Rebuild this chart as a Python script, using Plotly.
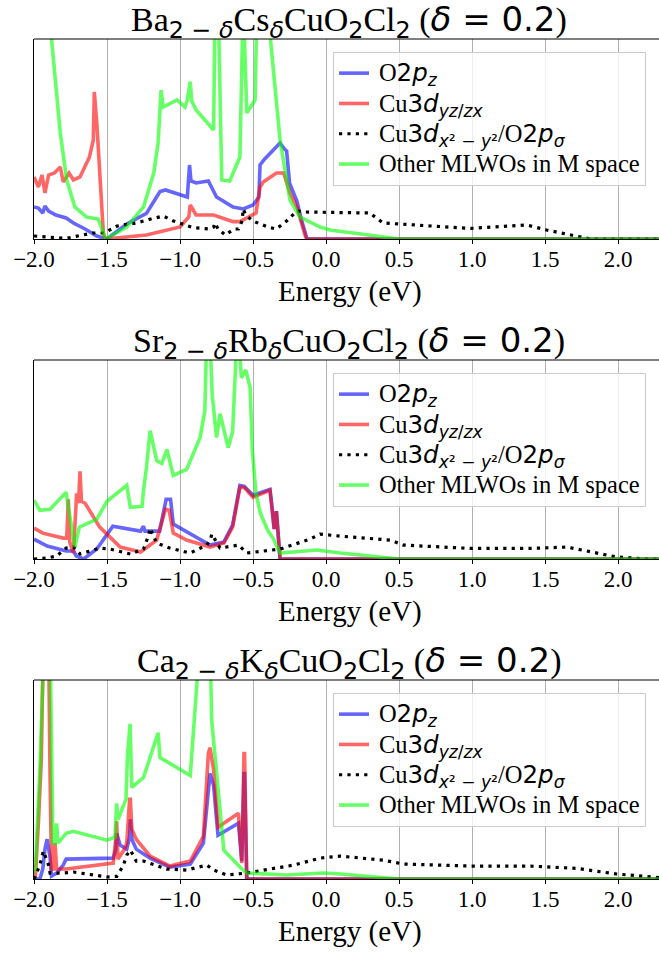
import plotly.graph_objects as go

# ---------------- data (energy in eV, DOS in arbitrary units) ----------------
E_TICKS = [-2.0, -1.5, -1.0, -0.5, 0.0, 0.5, 1.0, 1.5, 2.0]
E_TICK_TEXT = ["−2.0", "−1.5", "−1.0", "−0.5", "0.0", "0.5", "1.0", "1.5", "2.0"]

PANEL_TITLES = [
    'Ba<sub><span style="font-family:DejaVu Sans">2 − <i>δ</i></span></sub>Cs<sub><span style="font-family:DejaVu Sans"><i>δ</i></span></sub>CuO<sub><span style="font-family:DejaVu Sans">2</span></sub>Cl<sub><span style="font-family:DejaVu Sans">2</span></sub> (<span style="font-family:DejaVu Sans"><i>δ</i> = 0.2</span>)',
    'Sr<sub><span style="font-family:DejaVu Sans">2 − <i>δ</i></span></sub>Rb<sub><span style="font-family:DejaVu Sans"><i>δ</i></span></sub>CuO<sub><span style="font-family:DejaVu Sans">2</span></sub>Cl<sub><span style="font-family:DejaVu Sans">2</span></sub> (<span style="font-family:DejaVu Sans"><i>δ</i> = 0.2</span>)',
    'Ca<sub><span style="font-family:DejaVu Sans">2 − <i>δ</i></span></sub>K<sub><span style="font-family:DejaVu Sans"><i>δ</i></span></sub>CuO<sub><span style="font-family:DejaVu Sans">2</span></sub>Cl<sub><span style="font-family:DejaVu Sans">2</span></sub> (<span style="font-family:DejaVu Sans"><i>δ</i> = 0.2</span>)',
]
SERIES_NAMES = [
    'O<span style="font-family:DejaVu Sans">2<i>p</i><sub><i>z</i></sub></span>',
    'Cu<span style="font-family:DejaVu Sans">3<i>d</i><sub><i>yz</i>/<i>zx</i></sub></span>',
    'Cu<span style="font-family:DejaVu Sans">3<i>d</i><sub><i>x</i>² − <i>y</i>²</sub></span>/O<span style="font-family:DejaVu Sans">2<i>p</i><sub><i>σ</i></sub></span>',
    'Other MLWOs in M space',
]
X_LABEL = "Energy (eV)"

# ---- Ba(2-d)Cs(d)CuO2Cl2 ----
BA_O2PZ_E = [-2.0, -1.97, -1.94, -1.925, -1.90, -1.85, -1.78, -1.73, -1.65, -1.57, -1.50, -1.365, -1.23, -1.137, -1.10, -1.0, -0.95, -0.935, -0.925, -0.89, -0.806, -0.75, -0.637, -0.567, -0.50, -0.46, -0.452, -0.42, -0.315, -0.285, -0.27, -0.25, -0.20, -0.17, -0.13, 0.5, 1.0, 1.5, 2.0, 2.4]
BA_O2PZ_Y = [0.16, 0.155, 0.13, 0.165, 0.14, 0.12, 0.105, 0.08, 0.05, 0.015, 0.0, 0.075, 0.128, 0.237, 0.245, 0.22, 0.21, 0.37, 0.29, 0.28, 0.29, 0.21, 0.16, 0.15, 0.17, 0.21, 0.37, 0.40, 0.48, 0.45, 0.44, 0.28, 0.19, 0.10, 0.0, 0.0, 0.0, 0.0, 0.0, 0.0]
BA_CU3D_E = [-2.0, -1.97, -1.945, -1.925, -1.90, -1.86, -1.82, -1.80, -1.76, -1.73, -1.685, -1.62, -1.594, -1.587, -1.57, -1.55, -1.525, -1.51, -1.23, -1.0, -0.94, -0.93, -0.89, -0.77, -0.637, -0.59, -0.48, -0.452, -0.43, -0.34, -0.29, -0.247, -0.20, -0.14, -0.13, 0.5, 1.0, 1.5, 2.0, 2.4]
BA_CU3D_Y = [0.31, 0.26, 0.32, 0.23, 0.32, 0.33, 0.36, 0.285, 0.33, 0.295, 0.31, 0.41, 0.495, 0.735, 0.58, 0.31, 0.03, 0.0, 0.02, 0.06, 0.11, 0.17, 0.12, 0.12, 0.087, 0.087, 0.13, 0.26, 0.285, 0.33, 0.33, 0.23, 0.16, 0.01, 0.0, 0.0, 0.0, 0.0, 0.0, 0.0]
BA_DX2_E = [-2.0, -1.9, -1.78, -1.6, -1.52, -1.43, -1.30, -1.20, -1.115, -1.045, -0.96, -0.91, -0.80, -0.77, -0.76, -0.74, -0.69, -0.63, -0.60, -0.575, -0.567, -0.55, -0.50, -0.40, -0.34, -0.27, -0.20, -0.14, 0.30, 0.39, 0.99, 1.375, 1.51, 1.81, 2.4]
BA_DX2_Y = [0.015, 0.01, 0.003, 0.03, 0.03, 0.065, 0.08, 0.10, 0.115, 0.09, 0.07, 0.057, 0.05, 0.06, 0.08, 0.05, 0.02, 0.05, 0.05, 0.09, 0.15, 0.12, 0.09, 0.06, 0.05, 0.09, 0.14, 0.135, 0.13, 0.08, 0.053, 0.07, 0.045, 0.0, 0.0]
BA_OTHER_E = [-2.0, -1.90, -1.88, -1.82, -1.776, -1.72, -1.64, -1.56, -1.51, -1.365, -1.25, -1.18, -1.15, -1.13, -1.115, -1.02, -0.966, -0.95, -0.93, -0.92, -0.89, -0.77, -0.758, -0.742, -0.714, -0.66, -0.59, -0.567, -0.543, -0.486, -0.47, -0.42, -0.315, -0.247, -0.178, -0.04, 0.027, 0.37, 0.5, 1.0, 1.5, 2.0, 2.4]
BA_OTHER_Y = [1.6, 1.3, 1.0, 0.53, 0.295, 0.16, 0.11, 0.10, 0.0, 0.06, 0.16, 0.33, 0.48, 0.745, 0.66, 0.695, 0.66, 0.695, 0.787, 0.69, 0.645, 0.545, 1.3, 1.3, 0.295, 0.29, 0.41, 1.2, 0.63, 0.695, 1.3, 1.3, 0.495, 0.195, 0.11, 0.06, 0.045, 0.01, 0.0, 0.0, 0.0, 0.0, 0.0]

# ---- Sr(2-d)Rb(d)CuO2Cl2 ----
SR_O2PZ_E = [-2.0, -1.91, -1.78, -1.73, -1.71, -1.66, -1.57, -1.46, -1.27, -1.25, -1.24, -1.14, -1.095, -1.065, -1.046, -0.93, -0.795, -0.70, -0.64, -0.59, -0.56, -0.50, -0.384, -0.37, -0.355, -0.34, -0.325, -0.315, 0.0, 0.5, 1.0, 1.5, 2.0, 2.4]
SR_O2PZ_Y = [0.10, 0.065, 0.04, 0.04, 0.015, 0.0, 0.05, 0.165, 0.14, 0.165, 0.14, 0.14, 0.30, 0.30, 0.175, 0.125, 0.07, 0.085, 0.17, 0.37, 0.365, 0.32, 0.35, 0.26, 0.15, 0.24, 0.12, 0.0, 0.0, 0.0, 0.0, 0.0, 0.0, 0.0]
SR_CU3D_E = [-2.0, -1.94, -1.80, -1.776, -1.765, -1.755, -1.73, -1.708, -1.695, -1.685, -1.675, -1.65, -1.55, -1.41, -1.27, -1.16, -1.10, -1.075, -1.046, -0.955, -0.795, -0.70, -0.64, -0.59, -0.56, -0.50, -0.384, -0.37, -0.355, -0.34, -0.325, -0.315, 0.0, 0.5, 1.0, 1.5, 2.0, 2.4]
SR_CU3D_Y = [0.155, 0.13, 0.105, 0.105, 0.30, 0.085, 0.03, 0.33, 0.28, 0.44, 0.29, 0.28, 0.16, 0.06, 0.035, 0.095, 0.25, 0.245, 0.13, 0.095, 0.06, 0.08, 0.16, 0.36, 0.36, 0.31, 0.345, 0.26, 0.15, 0.24, 0.12, 0.0, 0.0, 0.0, 0.0, 0.0, 0.0, 0.0]
SR_DX2_E = [-2.0, -1.91, -1.845, -1.78, -1.73, -1.685, -1.55, -1.48, -1.34, -1.25, -1.215, -1.205, -1.16, -1.07, -0.93, -0.817, -0.79, -0.783, -0.726, -0.60, -0.543, -0.315, -0.11, -0.041, 0.096, 0.44, 0.53, 0.99, 1.40, 1.65, 1.99, 2.2, 2.4]
SR_DX2_Y = [0.0, 0.005, 0.015, 0.055, 0.06, 0.025, 0.055, 0.05, 0.025, 0.05, 0.12, 0.155, 0.08, 0.055, 0.03, 0.07, 0.10, 0.125, 0.055, 0.07, 0.03, 0.05, 0.10, 0.125, 0.115, 0.095, 0.07, 0.053, 0.053, 0.06, 0.01, 0.0, 0.0]
SR_OTHER_E = [-2.0, -1.96, -1.89, -1.78, -1.765, -1.73, -1.72, -1.69, -1.57, -1.50, -1.365, -1.34, -1.26, -1.25, -1.23, -1.205, -1.16, -1.125, -1.09, -1.046, -0.955, -0.863, -0.83, -0.815, -0.80, -0.78, -0.75, -0.726, -0.67, -0.64, -0.617, -0.605, -0.58, -0.55, -0.52, -0.505, -0.48, -0.45, -0.40, -0.36, -0.315, -0.064, 0.096, 0.3, 0.5, 1.0, 1.5, 2.0, 2.4]
SR_OTHER_Y = [0.295, 0.245, 0.25, 0.335, 0.26, 0.095, 0.06, 0.16, 0.20, 0.29, 0.37, 0.26, 0.265, 0.345, 0.46, 0.645, 0.495, 0.48, 0.55, 0.42, 0.45, 0.61, 0.745, 1.2, 1.2, 0.83, 0.61, 0.73, 0.56, 0.64, 1.2, 1.2, 0.91, 0.95, 0.86, 0.55, 0.33, 0.23, 0.145, 0.10, 0.03, 0.045, 0.03, 0.015, 0.0, 0.0, 0.0, 0.0, 0.0]

# ---- Ca(2-d)K(d)CuO2Cl2 ----
CA_O2PZ_E = [-2.0, -1.96, -1.94, -1.925, -1.91, -1.89, -1.88, -1.845, -1.80, -1.78, -1.457, -1.44, -1.434, -1.41, -1.365, -1.345, -1.34, -1.33, -1.30, -1.205, -1.07, -0.93, -0.84, -0.806, -0.795, -0.77, -0.74, -0.60, -0.577, -0.562, -0.558, -0.543, 0.0, 0.5, 1.0, 1.5, 2.0, 2.4]
CA_O2PZ_Y = [0.0, 0.0, 0.05, 0.15, 0.20, 0.11, 0.015, 0.03, 0.07, 0.10, 0.105, 0.15, 0.23, 0.17, 0.15, 0.21, 0.30, 0.20, 0.15, 0.105, 0.06, 0.075, 0.18, 0.45, 0.53, 0.47, 0.22, 0.28, 0.09, 0.53, 0.53, 0.0, 0.0, 0.0, 0.0, 0.0, 0.0, 0.0]
CA_CU3D_E = [-2.0, -1.99, -1.97, -1.95, -1.936, -1.925, -1.90, -1.89, -1.88, -1.868, -1.856, -1.845, -1.78, -1.457, -1.44, -1.434, -1.425, -1.38, -1.365, -1.345, -1.34, -1.33, -1.30, -1.205, -1.07, -0.93, -0.84, -0.806, -0.795, -0.77, -0.74, -0.60, -0.577, -0.562, -0.558, -0.543, 0.0, 0.5, 1.0, 1.5, 2.0, 2.4]
CA_CU3D_Y = [0.0, 0.015, 0.28, 0.60, 1.2, 1.2, 1.2, 0.515, 0.05, 0.05, 0.18, 0.05, 0.05, 0.08, 0.20, 0.29, 0.10, 0.15, 0.18, 0.40, 0.40, 0.25, 0.20, 0.115, 0.065, 0.09, 0.215, 0.63, 0.66, 0.55, 0.26, 0.33, 0.08, 0.63, 0.63, 0.0, 0.0, 0.0, 0.0, 0.0, 0.0, 0.0]
CA_DX2_E = [-2.0, -1.96, -1.936, -1.90, -1.89, -1.80, -1.73, -1.57, -1.50, -1.434, -1.39, -1.365, -1.34, -1.30, -1.25, -1.09, -0.955, -0.817, -0.80, -0.77, -0.68, -0.543, -0.384, -0.22, -0.041, 0.096, 0.39, 0.53, 0.99, 1.40, 1.72, 1.99, 2.4]
CA_DX2_Y = [0.0, 0.07, 0.14, 0.07, 0.03, 0.03, 0.035, 0.015, 0.01, 0.013, 0.065, 0.12, 0.145, 0.09, 0.09, 0.05, 0.045, 0.07, 0.06, 0.045, 0.02, 0.03, 0.05, 0.07, 0.105, 0.115, 0.095, 0.075, 0.065, 0.065, 0.053, 0.025, 0.0]
CA_OTHER_E = [-2.0, -1.99, -1.96, -1.947, -1.93, -1.90, -1.89, -1.87, -1.855, -1.845, -1.835, -1.78, -1.73, -1.50, -1.445, -1.434, -1.425, -1.37, -1.36, -1.342, -1.335, -1.33, -1.25, -1.18, -1.15, -1.137, -1.0, -0.93, -0.863, -0.795, -0.783, -0.726, -0.70, -0.59, -0.543, -0.27, -0.018, 0.096, 0.5, 1.0, 1.5, 2.0, 2.4]
CA_OTHER_Y = [0.03, 0.06, 0.545, 1.2, 1.2, 1.2, 1.2, 0.18, 0.18, 0.28, 0.18, 0.23, 0.24, 0.195, 0.21, 0.38, 0.30, 0.40, 0.62, 0.78, 0.47, 0.46, 0.51, 0.66, 0.735, 0.61, 0.55, 0.52, 1.2, 1.2, 0.795, 0.36, 0.145, 0.06, 0.03, 0.02, 0.03, 0.025, 0.0, 0.0, 0.0, 0.0, 0.0]

PANELS = [
    [(BA_O2PZ_E, BA_O2PZ_Y), (BA_CU3D_E, BA_CU3D_Y), (BA_DX2_E, BA_DX2_Y), (BA_OTHER_E, BA_OTHER_Y)],
    [(SR_O2PZ_E, SR_O2PZ_Y), (SR_CU3D_E, SR_CU3D_Y), (SR_DX2_E, SR_DX2_Y), (SR_OTHER_E, SR_OTHER_Y)],
    [(CA_O2PZ_E, CA_O2PZ_Y), (CA_CU3D_E, CA_CU3D_Y), (CA_DX2_E, CA_DX2_Y), (CA_OTHER_E, CA_OTHER_Y)],
]

# ---------------- styling / layout ----------------
W, H = 659, 954
AX_LEFT_PX = 34
AX_RIGHT_PX = 659
PANEL_PX = [(39, 239), (360, 559), (680, 879)]   # (top, bottom) pixel rows
X_RANGE = [-2.0, 2.28]
Y_RANGE = [0.0, 1.0]
SERIF = "Liberation Serif"
STYLES = [
    dict(color="rgba(0,0,255,0.6)", width=3.6),
    dict(color="rgba(255,0,0,0.6)", width=3.6),
    dict(color="black", width=3.2, dash="3.2px,5.2px"),
    dict(color="rgba(0,255,0,0.6)", width=3.6),
]
LEGEND_TEXT_PX = 24.5


def py(px):
    return 1 - px / H


fig = go.Figure()
layout = dict(
    width=W, height=H, margin=dict(l=0, r=0, t=0, b=0, pad=0, autoexpand=False),
    paper_bgcolor="white", plot_bgcolor="white",
    font=dict(family=SERIF, color="black"),
    annotations=[], shapes=[],
)

for i, series in enumerate(PANELS):
    n = "" if i == 0 else str(i + 1)
    top, bot = PANEL_PX[i]
    leg = "legend" if i == 0 else f"legend{i + 1}"
    for k, (ex, ey) in enumerate(series):
        fig.add_trace(go.Scatter(
            x=ex, y=ey, mode="lines",
            name=f'<span style="font-size:{LEGEND_TEXT_PX}px">\u2009{SERIES_NAMES[k]}</span>',
            line=STYLES[k],
            xaxis="x" + n, yaxis="y" + n, legend=leg, showlegend=True,
            hoverinfo="skip",
        ))
    layout["xaxis" + n] = dict(
        domain=[AX_LEFT_PX / W, AX_RIGHT_PX / W], range=X_RANGE, anchor="y" + n,
        automargin=False,
        tickmode="array", tickvals=E_TICKS, ticktext=E_TICK_TEXT,
        ticks="outside", ticklen=4, tickwidth=1, tickcolor="black",
        ticklabelstandoff=-5,
        tickfont=dict(family=SERIF, size=23, color="black"),
        showgrid=True, gridcolor="#b0b0b0", gridwidth=1,
        showline=True, linecolor="black", linewidth=1.2, zeroline=False,
        fixedrange=True,
    )
    layout["yaxis" + n] = dict(
        domain=[py(bot), py(top)], range=Y_RANGE, anchor="x" + n,
        automargin=False,
        showticklabels=False, ticks="", showgrid=False,
        showline=True, linecolor="black", linewidth=1.2, zeroline=False,
        fixedrange=True,
    )
    layout["shapes"].append(dict(
        type="line", xref="x" + n + " domain", yref="y" + n + " domain",
        x0=0, x1=1, y0=1, y1=1, line=dict(color="black", width=1.2), layer="above",
    ))
    layout[leg] = dict(
        x=333 / W, xanchor="left", y=py(top + 13), yanchor="top",
        bgcolor="rgba(255,255,255,0.8)", bordercolor="#cccccc", borderwidth=1,
        font=dict(family=SERIF, size=21, color="black"),
        itemwidth=30, tracegroupgap=0,
    )
    layout["annotations"].append(dict(
        text=PANEL_TITLES[i], xref="paper", yref="paper",
        x=349 / W, y=py(top + 7), xanchor="center", yanchor="bottom",
        showarrow=False, font=dict(family=SERIF, size=34, color="black"),
    ))
    layout["annotations"].append(dict(
        text=X_LABEL, xref="paper", yref="paper",
        x=350 / W, y=py(bot + 52), xanchor="center", yanchor="middle",
        showarrow=False, font=dict(family=SERIF, size=29, color="black"),
    ))

fig.update_layout(**layout)
fig.write_html("out.html")
